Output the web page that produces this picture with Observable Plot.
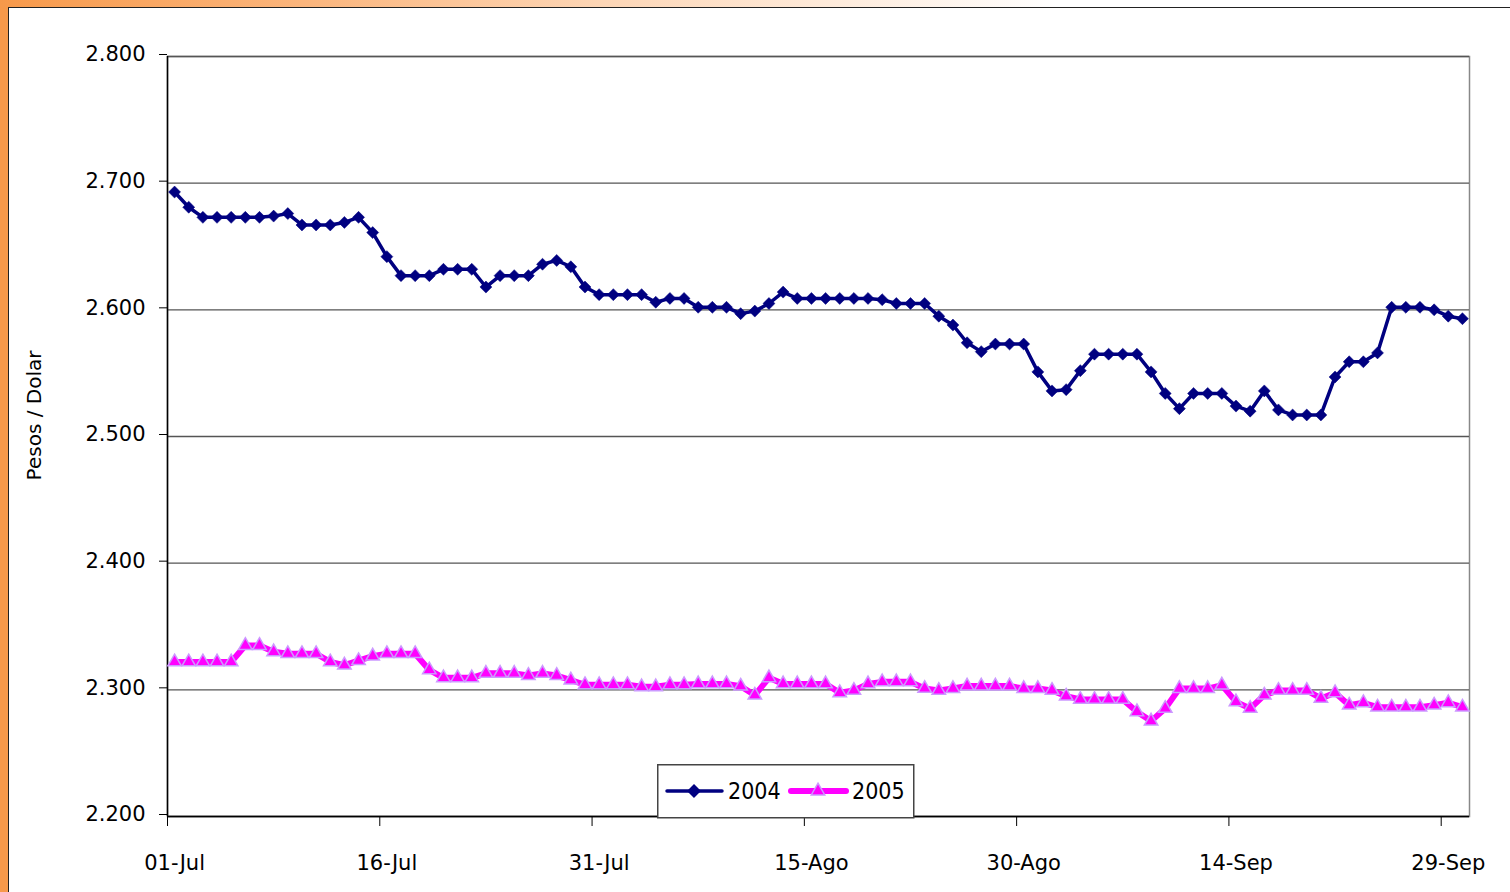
<!DOCTYPE html>
<html><head><meta charset="utf-8">
<script src="https://cdn.jsdelivr.net/npm/d3@7"></script>
<script src="https://cdn.jsdelivr.net/npm/@observablehq/plot@0.6"></script>
<style>
body{margin:0;background:#fff;}
#wrap{position:relative;width:1510px;height:892px;overflow:hidden;background:#fff;font-family:"DejaVu Sans",sans-serif;}
.band-left{position:absolute;left:0;top:0;width:8px;height:892px;background:#f7994a;}
.band-top{position:absolute;left:0;top:0;width:1510px;height:7px;background:linear-gradient(to right,#f7994a 0%,#fbb57c 20%,#fdd6b6 40%,#fff 70%);}
.inner{position:absolute;left:8px;top:7px;width:1502px;height:885px;border-left:1px solid #222;border-top:1px solid #222;box-sizing:border-box;}
#chart{position:absolute;left:0;top:0;}
#legend{position:absolute;left:657px;top:764px;}
</style></head><body>
<div id="wrap"><div class="band-left"></div><div class="band-top"></div><div class="inner"></div><div id="chart"></div><div id="legend"></div></div>
<script>
const tickLabels = ["01-Jul","16-Jul","31-Jul","15-Ago","30-Ago","14-Sep","29-Sep"];
const tickIndex = [0,15,30,45,60,75,90];
const yTicks = [2.2,2.3,2.4,2.5,2.6,2.7,2.8];
const seriesNames = ["2004","2005"];
const seriesColors = ["#000080","#ff00ff"];
const values2004 = [
2.693,2.681,2.673,2.673,2.673,2.673,2.673,2.674,2.676,2.667,
2.667,2.667,2.669,2.673,2.661,2.642,2.627,2.627,2.627,2.632,
2.632,2.632,2.618,2.627,2.627,2.627,2.636,2.639,2.634,2.618,
2.612,2.612,2.612,2.612,2.606,2.609,2.609,2.602,2.602,2.602,
2.597,2.599,2.605,2.614,2.609,2.609,2.609,2.609,2.609,2.609,
2.608,2.605,2.605,2.605,2.595,2.588,2.574,2.567,2.573,2.573,
2.573,2.551,2.536,2.537,2.552,2.565,2.565,2.565,2.565,2.551,
2.534,2.522,2.534,2.534,2.534,2.524,2.520,2.536,2.521,2.517,
2.517,2.517,2.547,2.559,2.559,2.566,2.602,2.602,2.602,2.600,
2.595,2.593];
const values2005 = [
2.322,2.322,2.322,2.322,2.322,2.335,2.335,2.330,2.3285,2.3285,
2.3285,2.322,2.3195,2.323,2.3266,2.3285,2.3285,2.3285,2.3157,2.3095,
2.3095,2.3095,2.313,2.313,2.313,2.3113,2.313,2.3113,2.3077,2.304,
2.304,2.304,2.304,2.3024,2.3024,2.304,2.304,2.3047,2.3047,2.3047,
2.3029,2.2958,2.3095,2.3047,2.3047,2.3047,2.3047,2.2977,2.2995,2.3047,
2.3063,2.3063,2.3063,2.3011,2.2995,2.301,2.303,2.303,2.303,2.303,
2.301,2.301,2.2995,2.295,2.2924,2.2924,2.2924,2.2924,2.2827,2.2753,
2.2853,2.301,2.301,2.301,2.3037,2.2905,2.2853,2.2958,2.2995,2.2995,
2.2995,2.2932,2.2977,2.2879,2.2898,2.2863,2.2863,2.2863,2.2863,2.2879,
2.2898,2.2863];

const d2004 = values2004.map((v,i)=>({i,v}));
const d2005 = values2005.map((v,i)=>({i,v}));
const font = "DejaVu Sans";

const chart = Plot.plot({
  width:1510, height:892,
  marginLeft:167, marginRight:41, marginTop:56, marginBottom:76,
  style:{background:"transparent", fontFamily:font, fontSize:"21px", color:"#000", overflow:"visible"},
  x:{domain:[-0.5,91.5]},
  y:{domain:[2.2,2.8]},
  marks:[
    Plot.frame({stroke:"#888", strokeWidth:1.5}),
    Plot.gridY(yTicks, {stroke:"#555", strokeOpacity:1, strokeWidth:1.3}),
    Plot.ruleX([-0.5], {stroke:"#000", strokeWidth:1.5}),
    Plot.ruleY([2.2], {stroke:"#000", strokeWidth:1.5}),
    Plot.axisY(yTicks, {tickFormat:d3.format(".3f"), tickSize:8, tickPadding:14, fontSize:21, label:null, stroke:"#000", dy:-2}),
    Plot.axisX(tickIndex.map(i=>i-0.5), {tickSize:10, tickFormat:()=>"", label:null, stroke:"#000"}),
    Plot.axisX(tickIndex, {tickSize:0, tickPadding:39, tickFormat:d=>tickLabels[tickIndex.indexOf(d)], fontSize:21, label:null}),
    Plot.text(["Pesos / Dolar"], {frameAnchor:"left", textAnchor:"middle", rotate:-90, dx:-133, dy:-21, fontSize:20, fill:"#000"}),
    Plot.line(d2005, {x:"i", y:"v", stroke:seriesColors[1], strokeWidth:6, strokeLinejoin:"round"}),
    Plot.dot(d2005, {x:"i", y:"v", symbol:"triangle", r:5, fill:seriesColors[1], stroke:"#cc99ff", strokeWidth:1.5}),
    Plot.line(d2004, {x:"i", y:"v", stroke:seriesColors[0], strokeWidth:3.5, strokeLinejoin:"round"}),
    Plot.dot(d2004, {x:"i", y:"v", symbol:"diamond2", r:5.4, fill:seriesColors[0], stroke:seriesColors[0], strokeWidth:0.5})
  ]
});
document.getElementById("chart").appendChild(chart);

// legend
const lg = d3.select("#legend").append("svg").attr("width",258).attr("height",55);
lg.append("rect").attr("x",0.75).attr("y",0.75).attr("width",256).attr("height",53).attr("fill","#fff").attr("stroke","#444").attr("stroke-width",1.5);
const items = [
  {name:seriesNames[0], color:seriesColors[0], x0:10, w:3.5, sym:d3.symbolDiamond2, size:2*6.7*6.7, fill:seriesColors[0], stroke:seriesColors[0]},
  {name:seriesNames[1], color:seriesColors[1], x0:134, w:6, sym:d3.symbolTriangle, size:Math.PI*25, fill:seriesColors[1], stroke:"#cc99ff"}
];
items.forEach(it=>{
  lg.append("line").attr("x1",it.x0).attr("x2",it.x0+55).attr("y1",27).attr("y2",27).attr("stroke",it.color).attr("stroke-width",it.w).attr("stroke-linecap","round");
  lg.append("path").attr("d",d3.symbol(it.sym, it.size)()).attr("transform",`translate(${it.x0+27},27)`).attr("fill",it.fill).attr("stroke",it.stroke).attr("stroke-width",1.5);
  lg.append("text").attr("x",it.x0+61).attr("y",35).attr("font-family","DejaVu Sans Condensed, DejaVu Sans").attr("font-size",23).attr("fill","#000").text(it.name);
});
</script>
</body></html>
